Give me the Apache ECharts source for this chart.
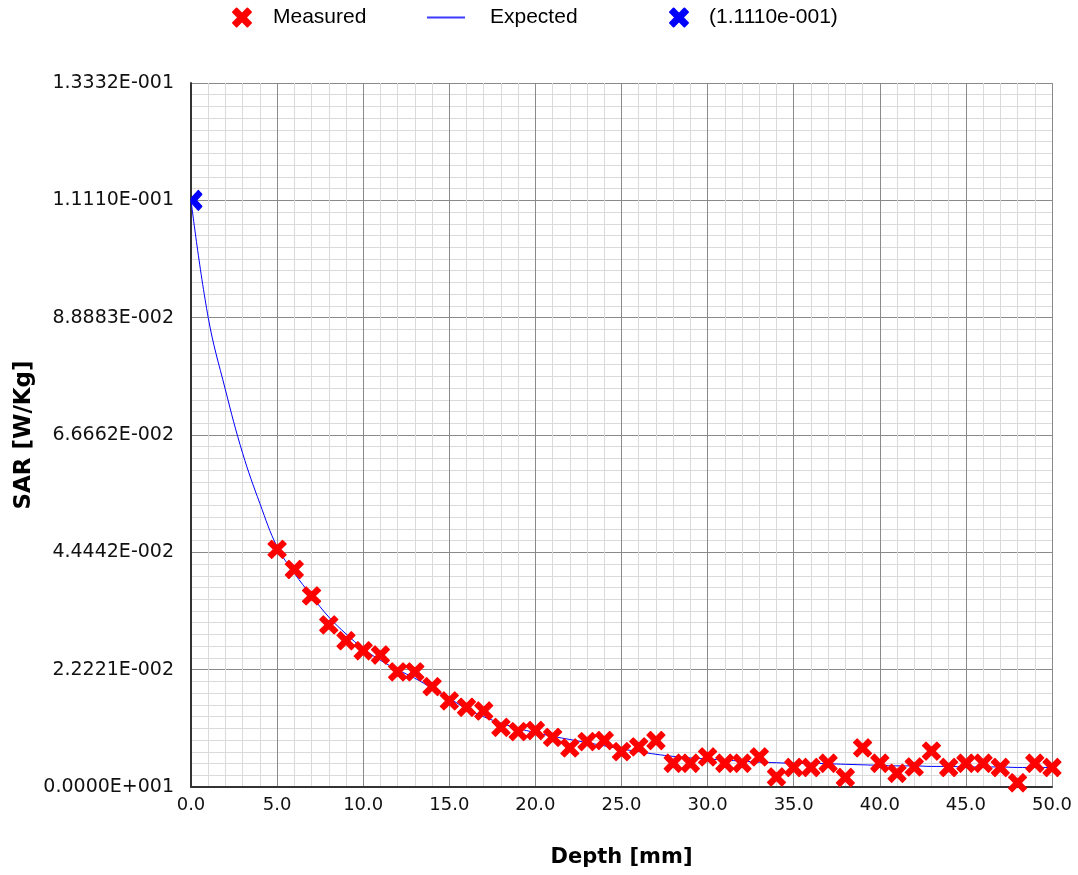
<!DOCTYPE html>
<html>
<head>
<meta charset="utf-8">
<script src="https://cdn.jsdelivr.net/npm/echarts@6/dist/echarts.min.js"></script>
<style>
  html, body { margin: 0; padding: 0; background: #fff; }
  #chart { width: 1078px; height: 875px; }
</style>
</head>
<body>
<div id="chart"></div>
<script>
// ---------- data ----------
const measuredDepth = [5, 6, 7, 8, 9, 10, 11, 12, 13, 14, 15, 16, 17, 18, 19, 20, 21, 22, 23, 24, 25, 26, 27, 28, 29, 30,
  31, 32, 33, 34, 35, 36, 37, 38, 39, 40, 41, 42, 43, 44, 45, 46, 47, 48, 49, 50];
const measuredSAR = [0.0450, 0.0412, 0.0362, 0.0307, 0.0277, 0.0258, 0.0250, 0.0218, 0.0218, 0.0190, 0.0163, 0.0151,
  0.0144, 0.0113, 0.0105, 0.0107, 0.0094, 0.0074, 0.0086, 0.0088, 0.0067, 0.0076, 0.0088, 0.0045, 0.0045, 0.0057,
  0.0045, 0.0045, 0.0057, 0.0019, 0.0037, 0.0037, 0.0045, 0.0018, 0.0074, 0.0045, 0.0026, 0.0038, 0.0068, 0.0037,
  0.0045, 0.0045, 0.0037, 0.0008, 0.0045, 0.0037];

const expectedDepth = [0, 1, 2, 3, 4, 5, 6, 7, 8, 9, 10, 11, 12, 13, 14, 15, 16, 17, 18, 19, 20, 21, 22, 23, 24, 25,
  26, 27, 28, 29, 30, 31, 32, 33, 34, 35, 36, 37, 38, 39, 40, 41, 42, 43, 44, 45, 46, 47, 48, 49, 50];
const expectedSAR = [0.1111, 0.0889, 0.0752, 0.0632, 0.0537, 0.0455, 0.0405, 0.0362, 0.0322, 0.0290, 0.0262, 0.0240,
  0.0222, 0.0206, 0.0187, 0.0168, 0.0148, 0.0133, 0.0121, 0.0111, 0.0103, 0.0096, 0.0090, 0.0084, 0.0078, 0.0072,
  0.0067, 0.0062, 0.0058, 0.0055, 0.0053, 0.0051, 0.0049, 0.0047, 0.0046, 0.0045, 0.0045, 0.0044, 0.0043, 0.0042,
  0.0041, 0.0040, 0.0040, 0.0039, 0.0039, 0.0038, 0.0038, 0.0038, 0.0037, 0.0037, 0.0037];

const peakDepth = [0];
const peakSAR = [0.1111];

const xTickLabels = ['0.0', '5.0', '10.0', '15.0', '20.0', '25.0', '30.0', '35.0', '40.0', '45.0', '50.0'];
const yTickLabels = ['0.0000E+001', '2.2221E-002', '4.4442E-002', '6.6662E-002', '8.8883E-002', '1.1110E-001', '1.3332E-001'];

const seriesNames = ['Measured', 'Expected', '(1.1110e-001)'];
const xTitle = 'Depth [mm]';
const yTitle = 'SAR [W/Kg]';

// ---------- build ----------
const X_STEP = 5;
const Y_STEP = 0.022221;
const X_PATH = 'path://M0,4 L4,0 L10,6 L16,0 L20,4 L14,10 L20,16 L16,20 L10,14 L4,20 L0,16 L6,10 Z';
const HALF_X_PATH = 'path://M0,8 L8,0 L12,4 L6,10 L12,16 L8,20 L0,12 Z';

const zip = (a, b) => a.map((v, i) => [v, b[i]]);

const chart = echarts.init(document.getElementById('chart'));
const legendText = { fontFamily: 'Liberation Sans', fontSize: 21, color: '#000' };

chart.setOption({
  animation: false,
  backgroundColor: '#fff',
  grid: { left: 191, right: 26, top: 83, bottom: 88, containLabel: false },
  legend: [
    {
      left: 232, top: 7, padding: 0, itemWidth: 18, itemHeight: 18, selectedMode: false,
      data: [{ name: seriesNames[0], icon: X_PATH }],
      textStyle: Object.assign({ padding: [0, 0, 0, 17] }, legendText)
    },
    {
      left: 427, top: 7, padding: 0, itemWidth: 38, itemHeight: 2, selectedMode: false,
      data: [{ name: seriesNames[1], icon: 'rect' }],
      itemStyle: { color: '#3b3bff' },
      textStyle: Object.assign({ padding: [0, 0, 0, 20] }, legendText)
    },
    {
      left: 669, top: 7, padding: 0, itemWidth: 18, itemHeight: 18, selectedMode: false,
      data: [{ name: seriesNames[2], icon: X_PATH }],
      textStyle: Object.assign({ padding: [0, 0, 0, 16] }, legendText)
    }
  ],
  xAxis: {
    type: 'value', min: 0, max: 10 * X_STEP, interval: X_STEP,
    name: xTitle, nameLocation: 'middle', nameGap: 60, nameMoveOverlap: false,
    nameTextStyle: { fontFamily: 'DejaVu Sans', fontWeight: 'bold', fontSize: 21, color: '#000' },
    axisLine: { show: true, lineStyle: { color: '#333', width: 2 } },
    axisTick: { show: false },
    axisLabel: {
      margin: 9, fontFamily: 'DejaVu Sans', fontSize: 18, color: '#111',
      formatter: v => xTickLabels[Math.round(v / X_STEP)]
    },
    splitLine: { show: true, lineStyle: { color: '#8a8a8a', width: 1 } },
    minorTick: { show: false, splitNumber: 5 },
    minorSplitLine: { show: true, lineStyle: { color: '#dadada', width: 1 } }
  },
  yAxis: {
    type: 'value', min: 0, max: 6 * Y_STEP, interval: Y_STEP,
    name: yTitle, nameLocation: 'middle', nameGap: 155, nameRotate: 90, nameMoveOverlap: false,
    nameTextStyle: { fontFamily: 'DejaVu Sans', fontWeight: 'bold', fontSize: 23, color: '#000' },
    axisLine: { show: true, lineStyle: { color: '#333', width: 2 } },
    axisTick: { show: false },
    axisLabel: {
      margin: 17, fontFamily: 'DejaVu Sans', fontSize: 19, color: '#111',
      formatter: v => yTickLabels[Math.round(v / Y_STEP)]
    },
    splitLine: { show: true, lineStyle: { color: '#8a8a8a', width: 1 } },
    minorTick: { show: false, splitNumber: 10 },
    minorSplitLine: { show: true, lineStyle: { color: '#dadada', width: 1 } }
  },
  series: [
    {
      name: seriesNames[1], type: 'line', data: zip(expectedDepth, expectedSAR),
      symbol: 'none', smooth: 0.4, z: 2,
      lineStyle: { color: '#0000ff', width: 1 },
      itemStyle: { color: '#0000ff' }
    },
    {
      name: seriesNames[0], type: 'scatter', data: zip(measuredDepth, measuredSAR),
      symbol: X_PATH, symbolSize: 18, z: 3,
      itemStyle: { color: '#ff0000', borderColor: '#ff0000', borderWidth: 1.2, borderJoin: 'round', opacity: 1 }
    },
    {
      name: seriesNames[2], type: 'scatter', data: zip(peakDepth, peakSAR),
      symbol: HALF_X_PATH, symbolSize: [11, 20], symbolOffset: [5.5, 0], z: 4, clip: false,
      itemStyle: { color: '#0000ff', borderColor: '#0000ff', borderWidth: 1, borderJoin: 'round', opacity: 1 }
    }
  ]
});
</script>
</body>
</html>
